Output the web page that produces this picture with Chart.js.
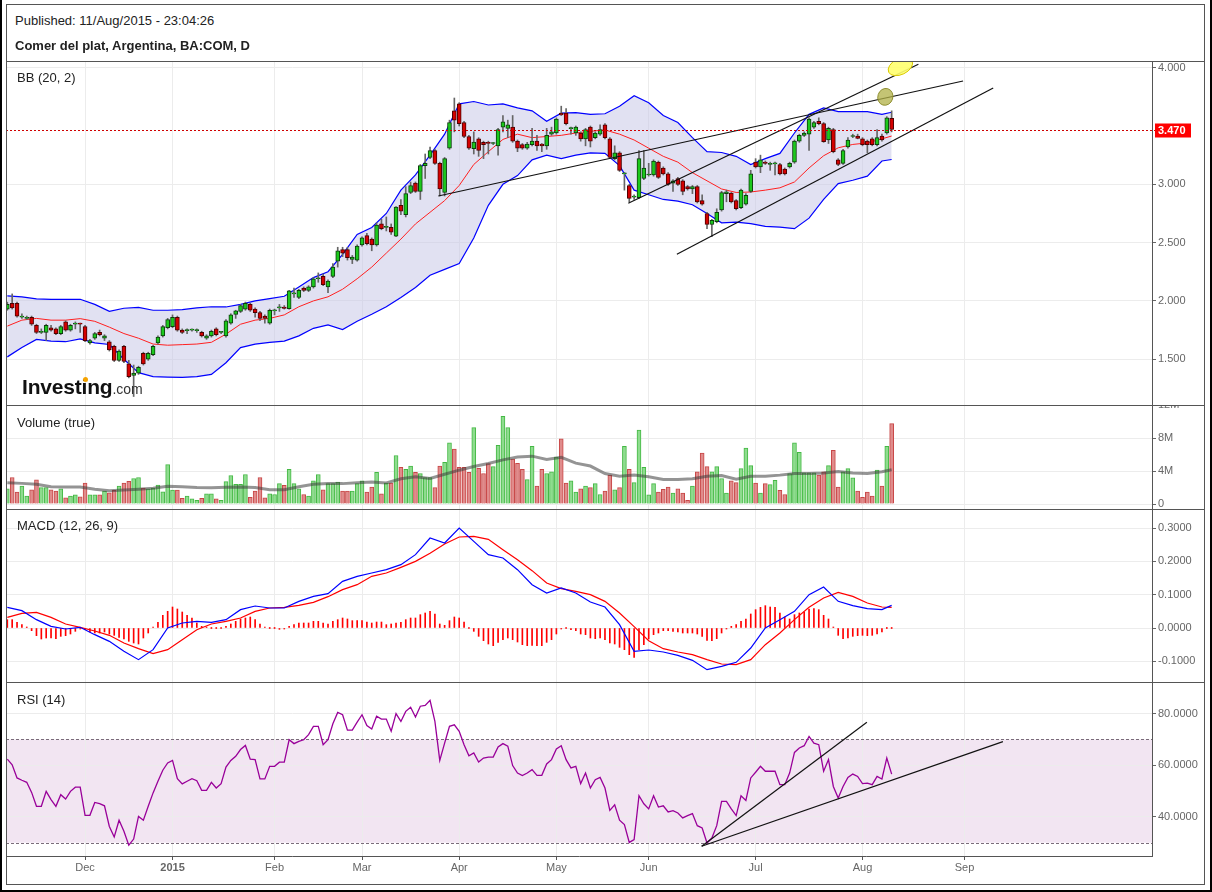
<!DOCTYPE html>
<html><head><meta charset="utf-8"><title>BA:COM</title>
<script src="https://cdn.jsdelivr.net/npm/chart.js@4.4.1/dist/chart.umd.min.js"></script>
<style>
html,body{margin:0;padding:0;background:#fff;}
body{width:1212px;height:892px;position:relative;overflow:hidden;font-family:"Liberation Sans",Arial,Helvetica,sans-serif;}
canvas{position:absolute;left:0;z-index:1;}
.t{position:absolute;white-space:nowrap;color:#222;font-size:13px;line-height:13px;z-index:3;}
.ln{position:absolute;background:#555;z-index:2;}
.ob{position:absolute;background:#000;z-index:2;}
</style></head><body>
<div class="t" style="left:15px;top:14px;">Published: 11/Aug/2015 - 23:04:26</div>
<div class="t" style="left:15px;top:39px;font-weight:bold;">Comer del plat, Argentina, BA:COM, D</div>

<canvas id="cPrice" width="1212" height="343" style="top:62px;width:1212px;height:343px"></canvas>
<canvas id="cVol" width="1212" height="104" style="top:405px;width:1212px;height:104px"></canvas>
<canvas id="cMacd" width="1212" height="172" style="top:510px;width:1212px;height:172px"></canvas>
<canvas id="cRsi" width="1212" height="201" style="top:683px;width:1212px;height:201px"></canvas>

<div class="t" style="left:17px;top:71px;">BB (20, 2)</div>
<div class="t" style="left:17px;top:416px;">Volume (true)</div>
<div class="t" style="left:17px;top:519px;">MACD (12, 26, 9)</div>
<div class="t" style="left:17px;top:693px;">RSI (14)</div>
<div class="t" style="left:22px;top:376px;line-height:21px;"><span style="font-size:21px;font-weight:bold;color:#111;letter-spacing:-0.2px">Investing</span><span style="font-size:14px;color:#333">.com</span></div>
<div style="position:absolute;left:83px;top:377px;width:5px;height:5px;border-radius:50%;background:#f5a300;z-index:4"></div>

<div class="ln" style="left:6px;top:61px;width:1199px;height:1px"></div>
<div class="ln" style="left:6px;top:405px;width:1199px;height:1px"></div>
<div class="ln" style="left:6px;top:509px;width:1199px;height:1px"></div>
<div class="ln" style="left:6px;top:682px;width:1199px;height:1px"></div>
<div class="ln" style="left:6px;top:4px;width:1199px;height:1px"></div>
<div class="ln" style="left:6px;top:4px;width:1px;height:881px"></div>
<div class="ln" style="left:1204px;top:4px;width:1px;height:881px"></div>
<div class="ln" style="left:6px;top:884px;width:1199px;height:1px"></div>
<div class="ob" style="left:0;top:0;width:2px;height:892px"></div>
<div class="ob" style="left:1210px;top:0;width:2px;height:892px"></div>
<div class="ob" style="left:0;top:890px;width:1212px;height:2px"></div>

<script>
// ---------------- DATA ----------------
const monthTickIdx = [16, 34, 55, 73, 93, 113, 132, 154, 176, 197];
const monthTickLabels = ['Dec', '2015', 'Feb', 'Mar', 'Apr', 'May', 'Jun', 'Jul', 'Aug', 'Sep'];
const priceTicks = [1.5, 2.0, 2.5, 3.0, 4.0];
const volumeTicks = [0, 4, 8, 12];
const macdTicks = [-0.1, 0, 0.1, 0.2, 0.3];
const rsiTicks = [40, 60, 80];
const lastPrice = 3.470;

const candleOpen = [
1.93,1.98,1.98,1.86,1.85,1.86,1.79,1.73,1.73,1.77,
1.76,1.72,1.82,1.75,1.80,1.81,1.78,1.64,1.68,1.73,
1.68,1.65,1.61,1.49,1.61,1.46,1.36,1.38,1.55,1.50,
1.54,1.64,1.70,1.77,1.78,1.86,1.75,1.745,1.75,1.745,
1.73,1.68,1.70,1.76,1.73,1.70,1.81,1.885,1.91,1.93,
1.97,1.93,1.90,1.87,1.81,1.915,1.94,1.948,1.934,2.06,
2.03,2.11,2.09,2.12,2.19,2.21,2.12,2.21,2.34,2.44,
2.44,2.355,2.35,2.48,2.56,2.53,2.48,2.66,2.63,2.63,
2.555,2.82,2.74,2.93,3.01,2.94,3.16,3.23,3.29,3.18,
2.93,3.31,3.63,3.69,3.53,3.41,3.305,3.39,3.36,3.36,
3.35,3.33,3.49,3.48,3.49,3.37,3.34,3.31,3.34,3.37,
3.345,3.33,3.43,3.44,3.61,3.61,3.477,3.44,3.44,3.39,
3.49,3.40,3.43,3.51,3.39,3.22,3.27,3.09,2.99,2.89,
2.885,3.05,3.08,3.08,3.19,3.14,3.09,3.01,3.05,3.03,
2.98,2.96,2.98,2.86,2.75,2.655,2.68,2.78,2.92,2.925,
2.86,2.80,2.83,2.94,3.19,3.15,3.19,3.17,3.175,3.17,
3.13,3.15,3.19,3.37,3.42,3.43,3.49,3.54,3.52,3.38,
3.47,3.21,3.18,3.32,3.41,3.414,3.39,3.37,3.39,3.34,
3.414,3.44,3.566];
const candleHigh = [
1.99,2.06,1.99,1.89,1.87,1.87,1.80,1.76,1.80,1.79,
1.77,1.79,1.83,1.80,1.82,1.81,1.79,1.67,1.73,1.75,
1.71,1.66,1.62,1.58,1.62,1.49,1.45,1.44,1.56,1.56,
1.62,1.70,1.79,1.85,1.88,1.87,1.76,1.76,1.76,1.76,
1.74,1.71,1.75,1.77,1.74,1.84,1.89,1.92,1.97,1.99,
1.98,1.94,1.91,1.88,1.93,1.93,1.97,1.96,2.09,2.11,
2.10,2.12,2.13,2.20,2.24,2.23,2.18,2.32,2.46,2.46,
2.46,2.39,2.48,2.55,2.58,2.54,2.67,2.70,2.72,2.66,
2.81,2.87,2.98,3.02,3.02,3.17,3.26,3.32,3.30,3.19,
3.23,3.55,3.74,3.70,3.54,3.42,3.45,3.40,3.37,3.37,
3.36,3.48,3.59,3.55,3.59,3.38,3.35,3.36,3.48,3.42,
3.35,3.48,3.49,3.57,3.67,3.65,3.49,3.50,3.45,3.48,
3.50,3.45,3.51,3.52,3.40,3.33,3.28,3.10,3.00,2.91,
3.29,3.29,3.18,3.21,3.20,3.15,3.10,3.04,3.06,3.04,
2.99,2.99,2.99,2.91,2.76,2.70,2.79,2.94,2.95,2.93,
2.87,2.96,2.92,3.12,3.22,3.25,3.20,3.19,3.19,3.18,
3.14,3.19,3.38,3.43,3.45,3.57,3.54,3.57,3.53,3.49,
3.48,3.22,3.30,3.40,3.43,3.43,3.40,3.38,3.40,3.47,
3.43,3.58,3.63];
const candleLow = [
1.92,1.93,1.86,1.85,1.84,1.79,1.72,1.72,1.66,1.74,
1.71,1.71,1.74,1.74,1.76,1.73,1.65,1.63,1.67,1.70,
1.66,1.57,1.48,1.48,1.47,1.34,1.18,1.37,1.45,1.49,
1.53,1.63,1.69,1.76,1.77,1.74,1.72,1.72,1.74,1.73,
1.69,1.67,1.69,1.70,1.72,1.69,1.80,1.85,1.90,1.92,
1.91,1.86,1.83,1.81,1.80,1.88,1.91,1.93,1.93,2.03,
2.02,2.08,2.08,2.11,2.16,2.13,2.07,2.20,2.29,2.38,
2.35,2.32,2.34,2.47,2.48,2.43,2.47,2.61,2.60,2.57,
2.55,2.74,2.72,2.92,2.93,2.87,3.05,3.22,3.17,2.90,
2.90,3.30,3.45,3.50,3.40,3.30,3.26,3.24,3.22,3.26,
3.34,3.25,3.45,3.40,3.36,3.28,3.30,3.30,3.33,3.29,
3.28,3.30,3.42,3.43,3.59,3.51,3.43,3.42,3.37,3.33,
3.32,3.39,3.42,3.39,3.22,3.21,3.11,2.95,2.85,2.87,
2.88,3.04,3.07,3.07,3.05,3.08,2.99,2.94,2.99,2.91,
2.95,2.92,2.84,2.82,2.62,2.55,2.67,2.77,2.85,2.84,
2.78,2.79,2.82,2.93,3.14,3.10,3.17,3.12,3.08,3.08,
3.08,3.14,3.18,3.36,3.41,3.29,3.48,3.51,3.36,3.35,
3.27,3.16,3.17,3.31,3.40,3.39,3.33,3.27,3.33,3.33,
3.37,3.43,3.45];
const candleClose = [
1.97,1.94,1.87,1.87,1.86,1.80,1.73,1.74,1.79,1.75,
1.72,1.78,1.75,1.79,1.81,1.80,1.66,1.66,1.72,1.71,
1.70,1.58,1.49,1.57,1.48,1.35,1.38,1.43,1.46,1.55,
1.61,1.69,1.78,1.84,1.86,1.75,1.73,1.75,1.755,1.75,
1.70,1.70,1.74,1.71,1.735,1.83,1.88,1.914,1.96,1.98,
1.92,1.90,1.85,1.85,1.92,1.92,1.945,1.935,2.086,2.07,
2.09,2.09,2.12,2.19,2.19,2.14,2.17,2.29,2.43,2.41,
2.37,2.375,2.47,2.54,2.49,2.48,2.65,2.62,2.635,2.59,
2.805,2.77,2.92,2.99,2.94,3.16,3.18,3.29,3.18,2.96,
3.22,3.53,3.55,3.52,3.41,3.31,3.362,3.29,3.34,3.35,
3.352,3.47,3.535,3.51,3.37,3.31,3.31,3.345,3.37,3.33,
3.33,3.42,3.45,3.56,3.595,3.52,3.48,3.49,3.39,3.47,
3.37,3.44,3.47,3.40,3.23,3.27,3.12,3.093,2.88,2.893,
3.22,3.14,3.085,3.20,3.06,3.09,3.00,3.03,3.00,2.94,
2.96,2.98,2.85,2.83,2.655,2.69,2.76,2.93,2.935,2.85,
2.79,2.95,2.905,3.09,3.15,3.21,3.18,3.18,3.177,3.09,
3.09,3.18,3.37,3.42,3.44,3.56,3.53,3.52,3.365,3.48,
3.28,3.17,3.29,3.38,3.415,3.394,3.34,3.34,3.34,3.40,
3.38,3.57,3.47];

// volume in millions
const volume = [
1.85,3.21,1.44,2.18,0.95,1.73,2.92,1.98,1.98,1.73,
1.56,1.85,0.74,0.95,1.11,0.86,2.55,1.11,1.11,1.11,
1.56,1.36,1.65,2.18,2.55,2.76,3.09,3.21,1.93,1.85,
1.93,2.30,1.48,4.77,1.69,1.69,0.70,0.95,0.62,0.45,
0.70,1.23,1.23,0.62,0.45,2.72,3.46,2.39,2.39,3.58,
0.82,1.56,3.21,0.74,1.23,1.15,2.47,2.26,4.20,2.47,
1.85,1.15,0.95,2.80,3.58,1.73,2.47,2.47,2.67,1.56,
1.56,1.56,2.47,2.80,1.44,2.06,3.83,1.23,2.55,2.55,
5.88,4.44,4.20,4.61,3.83,3.70,3.21,3.21,1.98,4.61,
5.06,7.41,6.67,4.44,4.44,3.83,9.26,4.32,3.70,4.90,
4.53,7.12,10.62,9.26,5.43,4.94,4.20,2.96,7.00,2.18,
4.20,3.70,3.91,5.68,7.90,2.55,2.80,1.44,1.85,2.18,
1.98,2.47,1.15,1.56,3.50,1.73,1.98,7.00,4.20,2.59,
8.97,4.44,1.11,2.47,1.44,1.77,2.06,1.32,1.85,1.32,
0.45,2.18,3.91,6.17,4.53,3.91,4.53,3.09,1.32,2.80,
2.59,4.28,6.79,4.65,2.55,1.32,2.47,2.35,2.88,1.65,
1.15,3.70,7.41,6.26,3.79,3.79,3.79,3.50,3.91,4.65,
6.50,2.06,3.91,4.28,3.17,1.56,0.82,1.44,0.95,4.12,
2.18,7.00,9.75];

// indicator lines read every 3rd session
const sampleIdx = [0,3,6,9,12,15,18,21,24,27,30,33,36,39,42,45,48,51,54,57,60,63,66,69,72,75,78,81,84,87,90,93,96,99,102,105,108,111,114,117,120,123,126,129,132,135,138,141,144,147,150,153,156,159,162,165,168,171,174,177,180,182];
const bbUpper = [2.043,2.034,2.017,2.014,2.014,2.014,1.97,1.91,1.937,1.945,1.92,1.92,1.925,1.94,1.95,1.948,1.97,2.00,2.02,2.04,2.12,2.20,2.25,2.40,2.57,2.63,2.75,2.95,3.08,3.25,3.43,3.69,3.71,3.68,3.69,3.655,3.63,3.54,3.61,3.615,3.60,3.605,3.67,3.76,3.70,3.59,3.53,3.40,3.28,3.273,3.24,3.17,3.22,3.265,3.44,3.60,3.655,3.623,3.623,3.623,3.60,3.618];
const bbMiddle = [1.784,1.835,1.85,1.835,1.835,1.848,1.825,1.775,1.72,1.68,1.63,1.62,1.625,1.63,1.645,1.715,1.80,1.835,1.85,1.88,1.95,2.00,2.035,2.10,2.19,2.29,2.41,2.53,2.66,2.76,2.86,2.99,3.17,3.28,3.385,3.43,3.40,3.41,3.42,3.44,3.455,3.466,3.43,3.38,3.31,3.24,3.19,3.10,3.03,2.96,2.93,2.934,2.95,2.97,3.02,3.14,3.245,3.313,3.342,3.355,3.39,3.414];
const bbLower = [1.52,1.60,1.67,1.655,1.65,1.675,1.64,1.626,1.50,1.385,1.35,1.347,1.345,1.35,1.37,1.47,1.60,1.63,1.645,1.655,1.70,1.765,1.795,1.755,1.825,1.885,1.95,2.03,2.115,2.22,2.27,2.32,2.54,2.82,3.00,3.075,3.21,3.25,3.22,3.25,3.27,3.265,3.16,2.95,2.91,2.87,2.855,2.825,2.75,2.67,2.675,2.662,2.64,2.633,2.62,2.71,2.87,3.006,3.035,3.07,3.20,3.213];
const volumeMA = [2.59,2.5,2.4,2.1,2.06,2.06,1.8,1.6,1.7,1.8,1.9,2.14,2.1,2.0,1.98,2.04,2.06,2.0,1.73,1.73,2.1,2.38,2.47,2.47,2.57,2.67,2.55,3.05,3.29,3.1,3.6,4.1,4.55,4.9,5.35,5.7,5.8,5.4,5.65,4.95,4.6,3.7,3.37,3.5,3.3,2.96,2.96,3.05,3.35,3.45,3.0,3.37,3.37,3.5,3.7,3.7,3.75,3.95,3.75,3.7,3.9,4.15];
const macdLine = [0.062,0.052,0.025,0.005,-0.003,0.002,-0.02,-0.04,-0.07,-0.095,-0.065,0.0,0.015,0.02,0.017,0.025,0.055,0.066,0.06,0.06,0.08,0.095,0.103,0.14,0.155,0.165,0.175,0.19,0.22,0.27,0.255,0.3,0.26,0.22,0.21,0.175,0.13,0.105,0.12,0.105,0.078,0.063,0.01,-0.07,-0.066,-0.072,-0.082,-0.097,-0.125,-0.115,-0.103,-0.06,0.0,0.025,0.05,0.1,0.123,0.08,0.067,0.058,0.055,0.068];
const signalLine = [0.032,0.044,0.047,0.032,0.012,0.002,-0.009,-0.022,-0.045,-0.062,-0.077,-0.065,-0.035,-0.005,0.012,0.02,0.03,0.05,0.06,0.062,0.068,0.077,0.094,0.115,0.13,0.155,0.165,0.182,0.2,0.224,0.252,0.273,0.275,0.266,0.235,0.205,0.172,0.135,0.118,0.11,0.1,0.08,0.045,0.004,-0.038,-0.062,-0.072,-0.08,-0.095,-0.108,-0.11,-0.095,-0.05,-0.015,0.025,0.062,0.09,0.107,0.095,0.075,0.063,0.062];
const macdHist = [
0.025,0.025,0.017,0.01,0.003,-0.008,-0.023,-0.033,-0.03,-0.03,
-0.032,-0.025,-0.023,-0.018,-0.01,-0.002,-0.005,-0.012,-0.015,-0.015,
-0.012,-0.018,-0.022,-0.028,-0.033,-0.04,-0.045,-0.048,-0.03,-0.015,
0.002,0.017,0.038,0.05,0.063,0.057,0.048,0.038,0.03,0.015,
0.005,0.002,0,0,0,0.005,0.012,0.02,0.027,0.03,
0.033,0.025,0.012,0.003,0,0,-0.004,-0.003,0.005,0.01,
0.015,0.015,0.015,0.02,0.02,0.015,0.012,0.02,0.025,0.03,
0.027,0.022,0.022,0.022,0.018,0.015,0.018,0.018,0.01,0.012,
0.015,0.017,0.025,0.03,0.03,0.04,0.045,0.05,0.042,0.012,
0.008,0.022,0.033,0.03,0.018,0.0,-0.01,-0.025,-0.038,-0.048,
-0.053,-0.043,-0.035,-0.03,-0.035,-0.042,-0.05,-0.053,-0.052,-0.053,
-0.053,-0.043,-0.035,-0.018,-0.003,0.0,-0.005,-0.008,-0.018,-0.02,
-0.03,-0.032,-0.03,-0.035,-0.045,-0.048,-0.058,-0.065,-0.08,-0.088,
-0.065,-0.05,-0.033,-0.02,-0.015,-0.008,-0.008,-0.01,-0.012,-0.015,
-0.015,-0.015,-0.018,-0.025,-0.037,-0.038,-0.032,-0.015,-0.002,0.005,
0.01,0.02,0.027,0.042,0.055,0.062,0.067,0.063,0.062,0.045,
0.033,0.027,0.04,0.045,0.048,0.057,0.058,0.055,0.038,0.027,
0.003,-0.022,-0.032,-0.03,-0.025,-0.023,-0.022,-0.023,-0.022,-0.018,
-0.012,0.0,0.0];
const rsi = [
62.4,60.2,55.1,54.2,53.4,49.5,44.1,44.1,49.9,46.7,
44.1,48.6,46.9,49.9,51.5,51.5,40.6,40.6,45.6,45.1,
44.3,36.3,32.2,38.7,34.4,29.0,31.4,40.2,38.7,44.1,
49.3,53.8,58.1,60.9,61.9,54.8,52.8,53.8,54.8,54.0,
50.3,50.3,53.4,51.2,52.9,59.3,61.9,63.5,66.1,67.7,
62.4,62.2,54.7,54.7,59.6,59.6,61.2,61.2,69.9,68.4,
69.3,69.9,71.9,75.1,75.1,68.0,69.9,76.1,80.5,79.6,
73.6,73.6,76.7,79.6,75.4,74.1,79.0,77.9,77.9,73.2,
80.0,77.0,80.9,82.5,78.7,82.9,83.2,85.2,77.0,61.9,
68.6,75.1,75.7,73.2,68.0,63.7,64.8,61.3,62.8,63.2,
63.2,67.1,68.4,67.4,59.9,57.0,56.0,57.0,58.3,56.1,
56.1,60.5,62.2,66.3,67.6,62.2,59.0,59.6,52.9,57.0,
51.2,54.4,55.3,51.2,42.5,44.7,38.7,37.0,30.1,31.2,
48.2,45.1,43.1,48.2,43.8,44.3,41.9,42.4,41.5,39.6,
40.5,41.3,36.6,35.7,29.9,31.8,36.6,46.0,46.0,43.1,
40.5,48.2,46.4,55.1,57.3,59.6,57.7,57.7,57.7,52.5,
52.5,57.0,65.0,66.7,67.6,71.2,68.6,68.0,57.7,62.2,
51.8,47.3,51.8,55.3,56.6,55.7,52.9,53.1,52.5,55.7,
54.7,62.8,56.6];

// drawn annotations in data space: [fromIndex, fromValue, toIndex, toValue]
const priceTrendLines = [[88.7, 2.900, 196.7, 3.886], [127.8, 2.837, 187.5, 4.03], [137.8, 2.400, 202.9, 3.826]];
const rsiTrendLines = [[142.9, 28.6, 176.9, 76.7], [142.9, 28.6, 204.9, 69.2]];
const priceMarkers = [[183.8, 4.01], [180.7, 3.75]];

// ---------------- CHARTS ----------------
Chart.defaults.font.family = "'Liberation Sans', Arial, Helvetica, sans-serif";
Chart.defaults.font.size = 11;
Chart.defaults.color = '#666';

const X_MIN = -0.27, X_MAX = 235.58;
const idx = candleOpen.map((_, i) => i);
const up = idx.map(i => candleClose[i] >= candleOpen[i]);
const pts = (xs, ys) => xs.map((x, k) => ({ x: x, y: ys[k] }));

function xScale(showLabels) {
  return {
    type: 'linear', min: X_MIN, max: X_MAX, offset: false, display: true, position: 'bottom',
    afterBuildTicks: s => { s.ticks = monthTickIdx.map(v => ({ value: v })); },
    afterFit: s => { s.height = showLabels ? 28 : 0; s.paddingLeft = 0; s.paddingRight = 0; s.paddingTop = 0; s.paddingBottom = 0; },
    grid: { color: '#ececec', lineWidth: 1, offset: false, drawTicks: showLabels, tickLength: 4, tickColor: '#555' },
    border: { display: showLabels, color: '#555', width: 1 },
    ticks: {
      display: showLabels, autoSkip: false, maxRotation: 0, minRotation: 0, padding: 1, color: '#666',
      callback: v => { const k = monthTickIdx.indexOf(v); return k >= 0 ? monthTickLabels[k] : ''; },
      font: c => {
        const v = c && c.tick ? c.tick.value : null;
        const k = monthTickIdx.indexOf(v);
        return { size: 11, weight: (k >= 0 && monthTickLabels[k] === '2015') ? 'bold' : 'normal' };
      }
    }
  };
}
function yScale(min, max, ticks, fmt) {
  return {
    type: 'linear', position: 'right', min: min, max: max,
    afterBuildTicks: s => { s.ticks = ticks.map(v => ({ value: v })); },
    afterFit: s => { s.width = 60; s.paddingTop = 0; s.paddingBottom = 0; s.paddingLeft = 0; s.paddingRight = 0; },
    grid: { color: '#ececec', lineWidth: 1, drawTicks: true, tickLength: 4, tickColor: '#666' },
    border: { display: true, color: '#555', width: 1 },
    ticks: { color: '#666', padding: 2, font: { size: 11 }, callback: fmt }
  };
}
function baseOptions(yCfg, showX) {
  return {
    responsive: false, maintainAspectRatio: false, animation: false, devicePixelRatio: 1, events: [],
    layout: { padding: { left: 6, right: 0, top: 0, bottom: 0 }, autoPadding: false },
    plugins: { legend: { display: false }, tooltip: { enabled: false }, filler: { drawTime: 'beforeDatasetsDraw' } },
    scales: { x: xScale(showX), y: yCfg }
  };
}

const priceOverlay = {
  id: 'priceOverlay',
  afterDatasetsDraw(chart) {
    const ctx = chart.ctx, a = chart.chartArea, x = chart.scales.x, y = chart.scales.y;
    ctx.save();
    ctx.beginPath(); ctx.rect(a.left, a.top, a.right - a.left, a.bottom - a.top); ctx.clip();
    ctx.strokeStyle = '#111'; ctx.lineWidth = 1.2;
    priceTrendLines.forEach(t => {
      ctx.beginPath();
      ctx.moveTo(x.getPixelForValue(t[0]), y.getPixelForValue(t[1]));
      ctx.lineTo(x.getPixelForValue(t[2]), y.getPixelForValue(t[3]));
      ctx.stroke();
    });
    const m0 = priceMarkers[0], m1 = priceMarkers[1];
    ctx.beginPath();
    ctx.ellipse(x.getPixelForValue(m0[0]), y.getPixelForValue(m0[1]), 13, 8, -0.45, 0, Math.PI * 2);
    ctx.fillStyle = 'rgba(255,255,110,0.9)'; ctx.fill();
    ctx.strokeStyle = '#d8c800'; ctx.lineWidth = 1; ctx.stroke();
    ctx.beginPath();
    ctx.ellipse(x.getPixelForValue(m1[0]), y.getPixelForValue(m1[1]), 7.5, 8.5, 0.3, 0, Math.PI * 2);
    ctx.fillStyle = 'rgba(176,176,70,0.75)'; ctx.fill();
    ctx.strokeStyle = '#8f8f30'; ctx.lineWidth = 1; ctx.stroke();
    ctx.restore();
    const py = Math.round(y.getPixelForValue(lastPrice)) + 0.5;
    ctx.save();
    ctx.strokeStyle = '#d00000'; ctx.lineWidth = 1; ctx.setLineDash([2, 2]);
    ctx.beginPath(); ctx.moveTo(a.left, py); ctx.lineTo(a.right + 3, py); ctx.stroke();
    ctx.setLineDash([]);
    ctx.fillStyle = '#ff0000'; ctx.fillRect(a.right + 3, py - 7, 36, 14);
    ctx.fillStyle = '#fff'; ctx.font = "bold 11px 'Liberation Sans', Arial, sans-serif";
    ctx.textBaseline = 'middle'; ctx.textAlign = 'left';
    ctx.fillText(lastPrice.toFixed(3), a.right + 6, py + 0.5);
    ctx.restore();
  }
};

new Chart(document.getElementById('cPrice'), {
  type: 'bar',
  data: { datasets: [
    { type: 'bar', data: idx.map(i => ({ x: i, y: [candleOpen[i], candleClose[i]] })),
      backgroundColor: up.map(u => u ? '#1cc81c' : '#d40000'), borderColor: up.map(u => u ? '#0d3d0d' : '#4d0000'),
      borderWidth: 1, borderSkipped: false, barThickness: 4, grouped: false, minBarLength: 1, order: 0 },
    { type: 'bar', data: idx.map(i => ({ x: i, y: [candleLow[i], candleHigh[i]] })),
      backgroundColor: '#666', borderWidth: 0, barThickness: 1, grouped: false, order: 1 },
    { type: 'line', data: pts(sampleIdx, bbMiddle), borderColor: '#ff2020', borderWidth: 1, pointRadius: 0, tension: 0, fill: false, order: 2 },
    { type: 'line', data: pts(sampleIdx, bbUpper), borderColor: '#0000ff', borderWidth: 1.2, pointRadius: 0, tension: 0,
      fill: { target: 4 }, backgroundColor: 'rgba(196,196,230,0.5)', order: 3 },
    { type: 'line', data: pts(sampleIdx, bbLower), borderColor: '#0000ff', borderWidth: 1.2, pointRadius: 0, tension: 0, fill: false, order: 4 }
  ] },
  options: baseOptions(yScale(1.1073, 4.0489, priceTicks, v => v.toFixed(3)), false),
  plugins: [priceOverlay]
});

new Chart(document.getElementById('cVol'), {
  type: 'bar',
  data: { datasets: [
    { type: 'line', data: pts(sampleIdx, volumeMA), borderColor: 'rgba(60,60,60,0.55)', borderWidth: 3, pointRadius: 0, tension: 0, fill: false, order: 0 },
    { type: 'bar', data: idx.map(i => ({ x: i, y: volume[i] })),
      backgroundColor: up.map(u => u ? '#8edc8e' : '#e08c8c'), borderColor: up.map(u => u ? '#44b844' : '#c84646'),
      borderWidth: 1, barThickness: 4, grouped: false, order: 1 }
  ] },
  options: baseOptions(yScale(-0.606, 12.0, volumeTicks, v => v === 0 ? '0' : v + 'M'), false)
});

new Chart(document.getElementById('cMacd'), {
  type: 'bar',
  data: { datasets: [
    { type: 'line', data: pts(sampleIdx, macdLine), borderColor: '#0000ff', borderWidth: 1.2, pointRadius: 0, tension: 0, fill: false, order: 0 },
    { type: 'line', data: pts(sampleIdx, signalLine), borderColor: '#ff0000', borderWidth: 1.2, pointRadius: 0, tension: 0, fill: false, order: 1 },
    { type: 'bar', data: idx.map(i => ({ x: i, y: macdHist[i] })), backgroundColor: '#ff0000', borderWidth: 0,
      barThickness: 1, grouped: false, minBarLength: 1, order: 2 }
  ] },
  options: baseOptions(yScale(-0.162, 0.354, macdTicks, v => v.toFixed(4)), false)
});

const rsiOverlay = {
  id: 'rsiOverlay',
  beforeDraw(chart) {
    const ctx = chart.ctx, a = chart.chartArea, y = chart.scales.y;
    const y70 = y.getPixelForValue(70), y30 = y.getPixelForValue(30);
    ctx.save(); ctx.fillStyle = '#f2e5f2'; ctx.fillRect(a.left, y70, a.right - a.left, y30 - y70); ctx.restore();
  },
  beforeDatasetsDraw(chart) {
    const ctx = chart.ctx, a = chart.chartArea, y = chart.scales.y;
    ctx.save(); ctx.strokeStyle = '#7a6c7a'; ctx.lineWidth = 1; ctx.setLineDash([3, 2]);
    [70, 30].forEach(v => {
      const py = Math.round(y.getPixelForValue(v)) + 0.5;
      ctx.beginPath(); ctx.moveTo(a.left, py); ctx.lineTo(a.right, py); ctx.stroke();
    });
    ctx.restore();
  },
  afterDatasetsDraw(chart) {
    const ctx = chart.ctx, a = chart.chartArea, x = chart.scales.x, y = chart.scales.y;
    ctx.save();
    ctx.beginPath(); ctx.rect(a.left, a.top, a.right - a.left, a.bottom - a.top); ctx.clip();
    ctx.strokeStyle = '#111'; ctx.lineWidth = 1.2;
    rsiTrendLines.forEach(t => {
      ctx.beginPath();
      ctx.moveTo(x.getPixelForValue(t[0]), y.getPixelForValue(t[1]));
      ctx.lineTo(x.getPixelForValue(t[2]), y.getPixelForValue(t[3]));
      ctx.stroke();
    });
    ctx.restore();
  }
};

new Chart(document.getElementById('cRsi'), {
  type: 'line',
  data: { datasets: [
    { data: idx.map(i => ({ x: i, y: rsi[i] })), borderColor: '#990099', borderWidth: 1.3, pointRadius: 0, tension: 0, fill: false }
  ] },
  options: baseOptions(yScale(24.84, 91.9, rsiTicks, v => v.toFixed(4)), true),
  plugins: [rsiOverlay]
});
</script>
</body></html>
